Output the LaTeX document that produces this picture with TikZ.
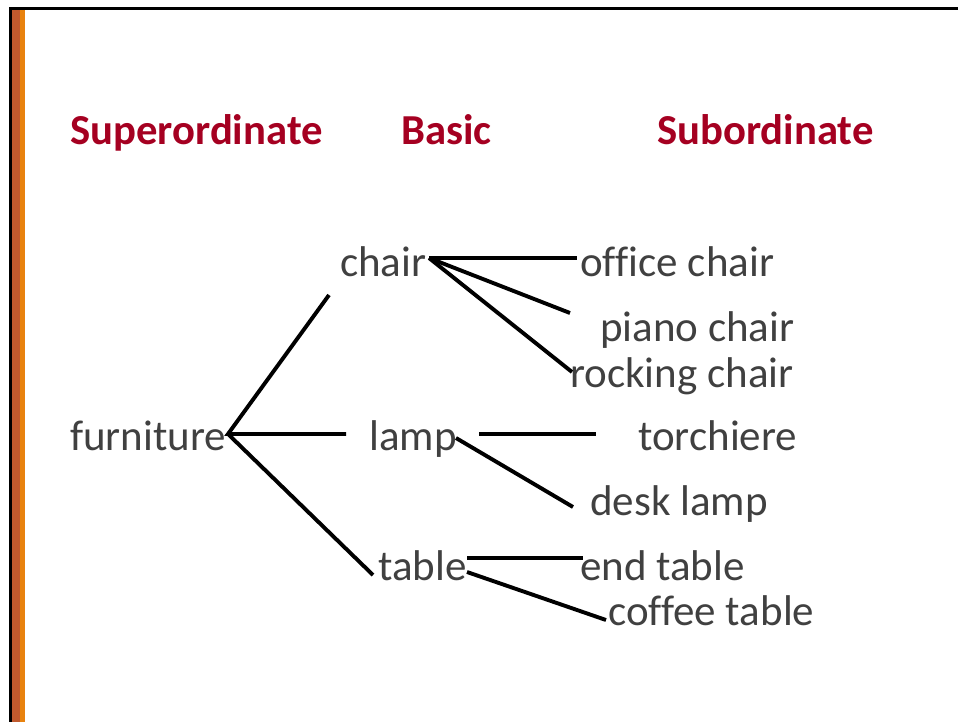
\documentclass[tikz,border=0pt]{standalone}
\usepackage{fontspec}
\setmainfont{Carlito}[Ligatures=NoCommon]
\definecolor{hdr}{HTML}{A50021}
\definecolor{txt}{HTML}{404040}
\definecolor{brn}{HTML}{C05A2E}
\definecolor{org}{HTML}{E8820E}
\begin{document}
\begin{tikzpicture}[x=1pt,y=-1pt,
  head/.style={anchor=base west,inner sep=0pt,text=hdr,font=\fontsize{42.7}{48}\selectfont\bfseries},
  word/.style={anchor=base west,inner sep=0pt,text=txt,font=\fontsize{43}{48}\selectfont},
  link/.style={line width=3.9pt,black}]
\useasboundingbox (0,0) rectangle (958,722);
% frame
\fill[black] (9,7) rectangle (958,10);
\fill[black] (9,7) rectangle (12,722);
\fill[brn] (12,10) rectangle (20,722);
\fill[org] (20,10) rectangle (25,722);
% headers
\node[head] (hsup) at (70,145) {Superordinate};
\node[head] (hbas) at (401,145) {Basic};
\node[head] (hsub) at (657,145) {Subordinate};
% words
\node[word] (furniture) at (70,450) {furniture};
\node[word] (chair) at (340,276) {chair};
\node[word] (lamp) at (369,450) {lamp};
\node[word] (table) at (378,580) {table};
\node[word] (office) at (580,276) {office chair};
\node[word] (piano) at (600,341) {piano chair};
\node[word] (rocking) at (570,387) {rocking chair};
\node[word] (torch) at (638,450) {torchiere};
\node[word] (desk) at (590,515) {desk lamp};
\node[word] (endt) at (580,580) {end table};
\node[word] (coffee) at (608,625) {coffee table};
% connector end points
\coordinate (fO) at (228,434);
\coordinate (fC) at (329,295);
\coordinate (fL) at (346,434);
\coordinate (fT) at (373,575);
\coordinate (cO) at (429,258);
\coordinate (cOf) at (577,258);
\coordinate (cPi) at (570,313);
\coordinate (cRo) at (572,372);
\coordinate (lO) at (479,434);
\coordinate (lTo) at (596,434);
\coordinate (lO2) at (456,438);
\coordinate (lDe) at (573,507);
\coordinate (tO) at (467,558);
\coordinate (tEn) at (583,558);
\coordinate (tO2) at (467,572);
\coordinate (tCo) at (606,620);
% connectors
\draw[link] (fC) -- (fO) -- (fL);
\draw[link] (fO) -- (fT);
\draw[link] (cO) -- (cOf);
\draw[link] (cO) -- (cPi);
\draw[link] (cO) -- (cRo);
\draw[link] (lO) -- (lTo);
\draw[link] (lO2) -- (lDe);
\draw[link] (tO) -- (tEn);
\draw[link] (tO2) -- (tCo);
\end{tikzpicture}
\end{document}
